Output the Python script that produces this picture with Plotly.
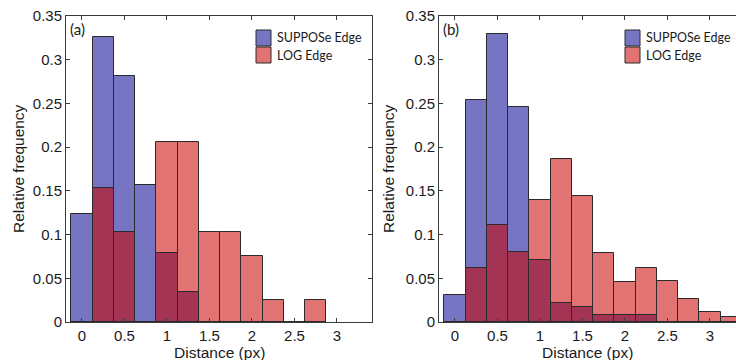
import plotly.graph_objects as go

# Bin centers (px), bin width 0.25
bins_a = [0, 0.25, 0.5, 0.75, 1.0, 1.25, 1.5, 1.75, 2.0, 2.25, 2.5, 2.75]
suppose_a = [0.123, 0.326, 0.281, 0.157, 0.079, 0.034, 0, 0, 0, 0, 0, 0]
log_a = [0, 0.153, 0.103, 0, 0.206, 0.206, 0.103, 0.103, 0.076, 0.0255, 0, 0.0255]

bins_b = [0, 0.25, 0.5, 0.75, 1.0, 1.25, 1.5, 1.75, 2.0, 2.25, 2.5, 2.75, 3.0, 3.25]
suppose_b = [0.031, 0.254, 0.329, 0.246, 0.071, 0.022, 0.017, 0.0076, 0.0084, 0.0076, 0, 0, 0, 0]
log_b = [0, 0.062, 0.111, 0.080, 0.139, 0.1865, 0.1443, 0.079, 0.0458, 0.0615, 0.047, 0.026, 0.011, 0.0057]

bin_width = 0.25
series_names = ["SUPPOSe Edge", "LOG Edge"]
y_ticks = [0, 0.05, 0.1, 0.15, 0.2, 0.25, 0.3, 0.35]
x_ticks = [0, 0.5, 1, 1.5, 2, 2.5, 3]

BLUE = "#7575C4"
RED = "#E27373"
DARK = "#A33453"
EDGE = "#2a2a2a"
AXIS = "#3a3a3a"

W, H = 736, 360
PT, PB = 16, 322          # plot area top / bottom in pixels
PH = PB - PT
fig = go.Figure()

def add_panel(bins, sup, log, xa, ya):
    overlap = [min(s, l) for s, l in zip(sup, log)]
    for vals, col in ((sup, BLUE), (log, RED), (overlap, DARK)):
        fig.add_trace(go.Bar(
            x=bins, y=vals, width=bin_width, marker=dict(color=col, line=dict(color=EDGE, width=1)),
            xaxis=xa, yaxis=ya, showlegend=False, hoverinfo="skip"))

add_panel(bins_a, suppose_a, log_a, "x", "y")
add_panel(bins_b, suppose_b, log_b, "x2", "y2")

tickfont = dict(family="Liberation Sans, Arial, sans-serif", size=15, color="#1a1a1a")
common_x = dict(tickvals=x_ticks, ticks="inside", ticklen=4, tickcolor=AXIS, showline=True,
                linecolor=AXIS, linewidth=1, showgrid=False, zeroline=False, tickfont=tickfont)
common_y = dict(tickvals=y_ticks, range=[0, 0.35], ticks="inside", ticklen=4, tickcolor=AXIS,
                showline=True, linecolor=AXIS, linewidth=1, showgrid=False, zeroline=False,
                tickfont=tickfont)

fig.update_layout(
    width=W, height=H, margin=dict(l=0, r=0, t=PT, b=H - PB),
    paper_bgcolor="white", plot_bgcolor="white", barmode="overlay", bargap=0,
    xaxis=dict(domain=[66 / W, 372 / W], range=[-0.188, 3.412], mirror="ticks", anchor="y", **common_x),
    yaxis=dict(domain=[0, 1], mirror="ticks", anchor="x", **common_y),
    xaxis2=dict(domain=[439 / W, 1.0], range=[-0.188, 3.306], mirror="ticks", anchor="y2", **common_x),
    yaxis2=dict(domain=[0, 1], mirror=False, anchor="x2", **common_y),
)

titlefont = dict(family="Liberation Sans, Arial, sans-serif", size=15.5, color="#1a1a1a")
legfont = dict(family="Lato, sans-serif", size=12.5, color="#1a1a1a")

def py(px):
    """pixel row -> paper y (plot-area based)"""
    return (PB - px) / PH

for xa, lab, ytx, sqx, x0dom in (("x", "(a)", 18, 256, 66), ("x2", "(b)", 388, 625, 439)):
    fig.add_annotation(text="Distance (px)", xref=f"{xa} domain", yref="paper", x=0.5, y=py(352),
                       showarrow=False, font=titlefont, yanchor="middle")
    fig.add_annotation(text="Relative frequency", xref="paper", yref="paper", x=ytx / W, y=py(169),
                       textangle=-90, showarrow=False, font=titlefont, xanchor="center", yanchor="middle")
    fig.add_annotation(text=lab, xref="paper", yref="paper", x=(x0dom + 2) / W, y=py(29),
                       showarrow=False, font=dict(family="Lato, sans-serif", size=15, color="#1a1a1a"),
                       xanchor="left", yanchor="middle")
    for i, (name, col) in enumerate(zip(series_names, (BLUE, RED))):
        top = 30 + i * 17
        fig.add_shape(type="rect", xref="paper", yref="paper",
                      x0=sqx / W, x1=(sqx + 15) / W, y0=py(top + 16), y1=py(top),
                      fillcolor=col, line=dict(color=EDGE, width=1), layer="above")
        fig.add_annotation(text=name, xref="paper", yref="paper", x=(sqx + 19) / W,
                           y=py(top + 8), showarrow=False, font=legfont,
                           xanchor="left", yanchor="middle")

fig.write_html("out.html")
